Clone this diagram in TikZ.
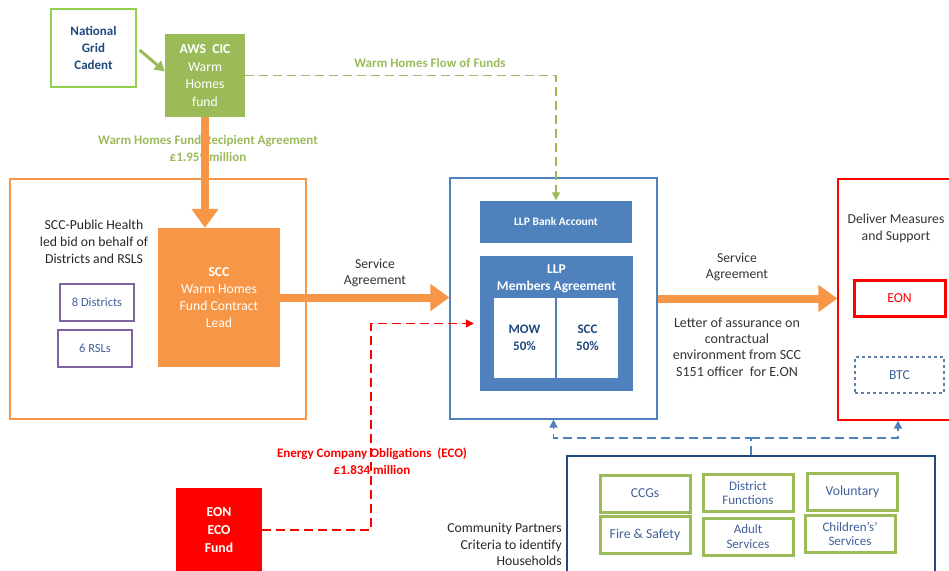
\documentclass[tikz,border=0pt]{standalone}
\usepackage{fontspec}
\setmainfont{Carlito}
\usetikzlibrary{arrows.meta, positioning, shapes}
\definecolor{wgreen}{HTML}{9BBB59}
\definecolor{lgreen}{HTML}{92D050}
\definecolor{worange}{HTML}{F79646}
\definecolor{wblue}{HTML}{4F81BD}
\definecolor{navy}{HTML}{1F497D}
\definecolor{softblue}{HTML}{41609A}
\definecolor{wpurple}{HTML}{8064A2}
\definecolor{wred}{HTML}{FF0000}
\definecolor{txt}{HTML}{333333}

\begin{document}
\begin{tikzpicture}[x=1pt, y=-1pt,
    every node/.style={font=\fontsize{13.7}{16.8}\selectfont, text=txt},
    box/.style={rectangle, inner sep=0pt, align=center},
    dims/.style 2 args={minimum width=#1pt, minimum height=#2pt},
    fillbox/.style={box, fill=#1, text=white},
    partner/.style={box, draw=wgreen, line width=3pt, text=softblue, dims={90}{37}},
    thickarrow/.style={draw=worange, line width=8pt, -{Triangle[length=19pt, width=26pt]}},
    dasharrow/.style={dashed, dash pattern=on 9pt off 5pt, line width=1.5pt, -{Triangle[length=8pt, width=8pt]}}
]
    \clip (0,0) rectangle (949,570);

    % funding source
    \node[box, draw=lgreen, line width=2.5pt, dims={85}{78}, text=navy, font=\fontsize{13}{17}\selectfont\bfseries] (grid) at (93.5,48) {National\\Grid\\Cadent};
    \node[fillbox=wgreen, dims={80}{83}, font=\fontsize{13.7}{17.5}\selectfont] (aws) at (205,75.5) {\textbf{AWS~ CIC}\\Warm\\Homes\\fund};

    % SCC bid
    \node[box, draw=worange, line width=1.2pt, dims={296}{240}] (bid) at (158,299) {};
    \node[box, text=black!85] (bidtext) at (94,242) {SCC-Public Health\\led bid on behalf of\\Districts and RSLS};
    \node[fillbox=worange, dims={122}{139}] (scc) at (219,297.5) {\textbf{SCC}\\Warm Homes\\Fund Contract\\Lead};
    \node[box, draw=wpurple, line width=1.2pt, dims={74}{37}, text=softblue, font=\fontsize{12.5}{15}\selectfont] (districts) at (97,302.5) {8 Districts};
    \node[box, draw=wpurple, line width=1.2pt, dims={74}{37}, text=softblue, font=\fontsize{12.5}{15}\selectfont] (rsls) at (95,348.5) {6 RSLs};

    % LLP
    \node[box, draw=wblue, line width=1.2pt, dims={207}{241}] (llp) at (553.5,298.5) {};
    \node[fillbox=wblue, dims={152}{42}, font=\fontsize{11.5}{14}\selectfont\bfseries] (bank) at (556,221.5) {LLP Bank Account};
    \node[fillbox=wblue, dims={153}{135}] (members) at (556.5,323.5) {};
    \node[box, text=white, font=\fontsize{13.5}{17.5}\selectfont\bfseries] (memberstext) at (556.5,279) {LLP\\Members Agreement};
    \node[box, fill=white, dims={61}{80}, text=navy, font=\fontsize{13}{17}\selectfont\bfseries] (mow) at (524.5,337.5) {MOW\\50\%};
    \node[box, fill=white, dims={61}{80}, text=navy, font=\fontsize{13}{17}\selectfont\bfseries] (scchalf) at (587.5,337.5) {SCC\\50\%};

    % delivery
    \node[box, draw=wred, line width=1.2pt, dims={120}{241}] (deliver) at (898,299.5) {};
    \node[box] (delivertext) at (896,228) {Deliver Measures\\and Support};
    \node[box, draw=wred, line width=3pt, dims={91}{36}, text=wred] (eon) at (899.5,298.5) {EON};
    \node[box, draw=navy!70, dashed, line width=1.2pt, dims={89}{36}, text=softblue] (btc) at (899.5,375) {BTC};

    % ECO
    \node[fillbox=wred, dims={86}{84}, font=\fontsize{13.7}{18}\selectfont\bfseries] (eco) at (219,530) {EON\\ECO\\Fund};

    % community partners
    \node[box, draw=navy, line width=1.2pt, dims={368}{122}] (community) at (751,517) {};
    \node[box, align=right, anchor=east, text=black!85] (commtext) at (562,544.5) {Community Partners\\Criteria to identify\\Households};
    \node[partner] (ccgs) at (645,493.5) {CCGs};
    \node[partner, font=\fontsize{13}{14.5}\selectfont] (districtfn) at (748,493) {District\\Functions};
    \node[partner] (voluntary) at (852.5,492) {Voluntary};
    \node[partner] (fire) at (645,535) {Fire \& Safety};
    \node[partner, font=\fontsize{13}{14.5}\selectfont] (adult) at (748,536.5) {Adult\\Services};
    \node[partner, font=\fontsize{13}{14.5}\selectfont] (children) at (850,534) {Children's'\\Services};
    \coordinate (split) at (751,438);

    % labels
    \node[box, text=wgreen, font=\fontsize{13}{17}\selectfont\bfseries] (recipient) at (208,148) {Warm Homes Fund Recipient Agreement\\\pounds1.959 million};
    \node[box, text=wgreen, font=\fontsize{13}{17}\selectfont\bfseries] (flowlabel) at (430,63) {Warm Homes Flow of Funds};
    \node[box] (service) at (375,273) {Service\\Agreement};
    \node[box] (service2) at (737,267) {Service\\Agreement};
    \node[box, font=\fontsize{14}{16.3}\selectfont] (letter) at (737,347) {Letter of assurance on\\contractual\\environment from SCC\\S151 officer~ for E.ON};
    \node[box, text=wred, font=\fontsize{13}{17}\selectfont\bfseries] (ecolabel) at (372,461) {Energy Company Obligations~ (ECO)\\\pounds1.834 million};

    % connectors
    \draw[draw=wgreen, line width=3pt, -{Triangle[length=10pt, width=11pt]}, shorten <=3pt] (grid.east) -- ([yshift=4pt]aws.west);
    \draw[thickarrow] (aws.south) -- (aws.south |- scc.north);
    \draw[dasharrow, draw=wgreen] (aws.east) -| (bank.north);
    \draw[thickarrow] (scc.east) -- (scc.east -| llp.west);
    \draw[thickarrow] (llp.east) -- (llp.east -| deliver.west);
    \draw[dasharrow, draw=wred] (eco.east) -- ++(109,0) |- ([xshift=-6pt]members.west);
    \draw[dasharrow, draw=wblue] (community.north) -- (split) -| (llp.south);
    \draw[dasharrow, draw=wblue] (split) -| (deliver.south);
\end{tikzpicture}
\end{document}
